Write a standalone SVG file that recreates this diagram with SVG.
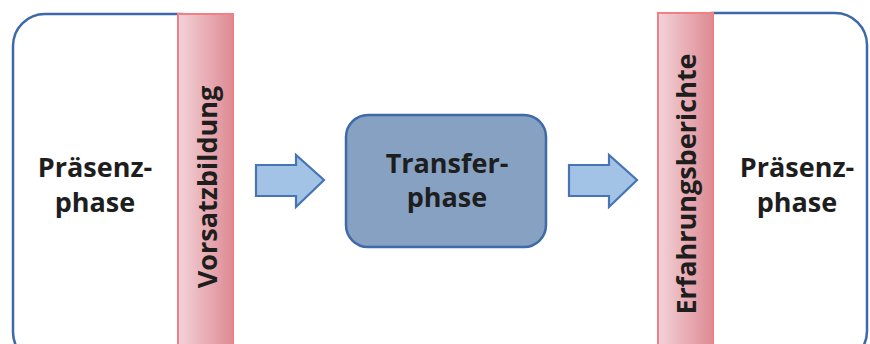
<svg xmlns="http://www.w3.org/2000/svg" width="870" height="344" viewBox="0 0 870 344">
<defs>
<linearGradient id="pink" x1="0" y1="0" x2="1" y2="0">
<stop offset="0" stop-color="#f3d3d9"/>
<stop offset="1" stop-color="#de8a93"/>
</linearGradient>
<style>
.frame{fill:#fff;stroke:#3d69aa;stroke-width:2.5}
.bar{fill:url(#pink);stroke:#f07f86;stroke-width:2}
.arrow{fill:#a3c3e6;stroke:#4674b4;stroke-width:2.2;stroke-linejoin:miter}
.lbl{font-family:"Open Sans",sans-serif;font-weight:bold;font-size:27px;fill:#1e1e1e;text-anchor:middle}
</style>
</defs>
<g id="left-phase">
<rect class="frame" x="13" y="14" width="200" height="350" rx="32"/>
<text class="lbl" x="95" y="177">Präsenz-</text>
<text class="lbl" x="95" y="212">phase</text>
</g>
<g id="right-phase">
<rect class="frame" x="680" y="13" width="187" height="350" rx="32"/>
<text class="lbl" x="797" y="177">Präsenz-</text>
<text class="lbl" x="797" y="212">phase</text>
</g>
<g id="vorsatzbildung">
<rect class="bar" x="178" y="14" width="55" height="340"/>
<text class="lbl" transform="translate(217,187) rotate(-90)">Vorsatzbildung</text>
</g>
<g id="erfahrungsberichte">
<rect class="bar" x="658" y="13" width="55" height="340"/>
<text class="lbl" transform="translate(696,184) rotate(-90)">Erfahrungsberichte</text>
</g>
<g id="transferphase">
<rect x="346" y="115" width="200" height="132" rx="22" fill="#86a1c1" stroke="#3f6aa8" stroke-width="2.5"/>
<text class="lbl" x="447" y="173">Transfer-</text>
<text class="lbl" x="447" y="207">phase</text>
</g>
<g id="connectors">
<polygon class="arrow" points="256,165 296,165 296,155 324,180 296,207 296,196 256,196"/>
<polygon class="arrow" points="569,165 609,165 609,155 637,180 609,207 609,196 569,196"/>
</g>
</svg>
